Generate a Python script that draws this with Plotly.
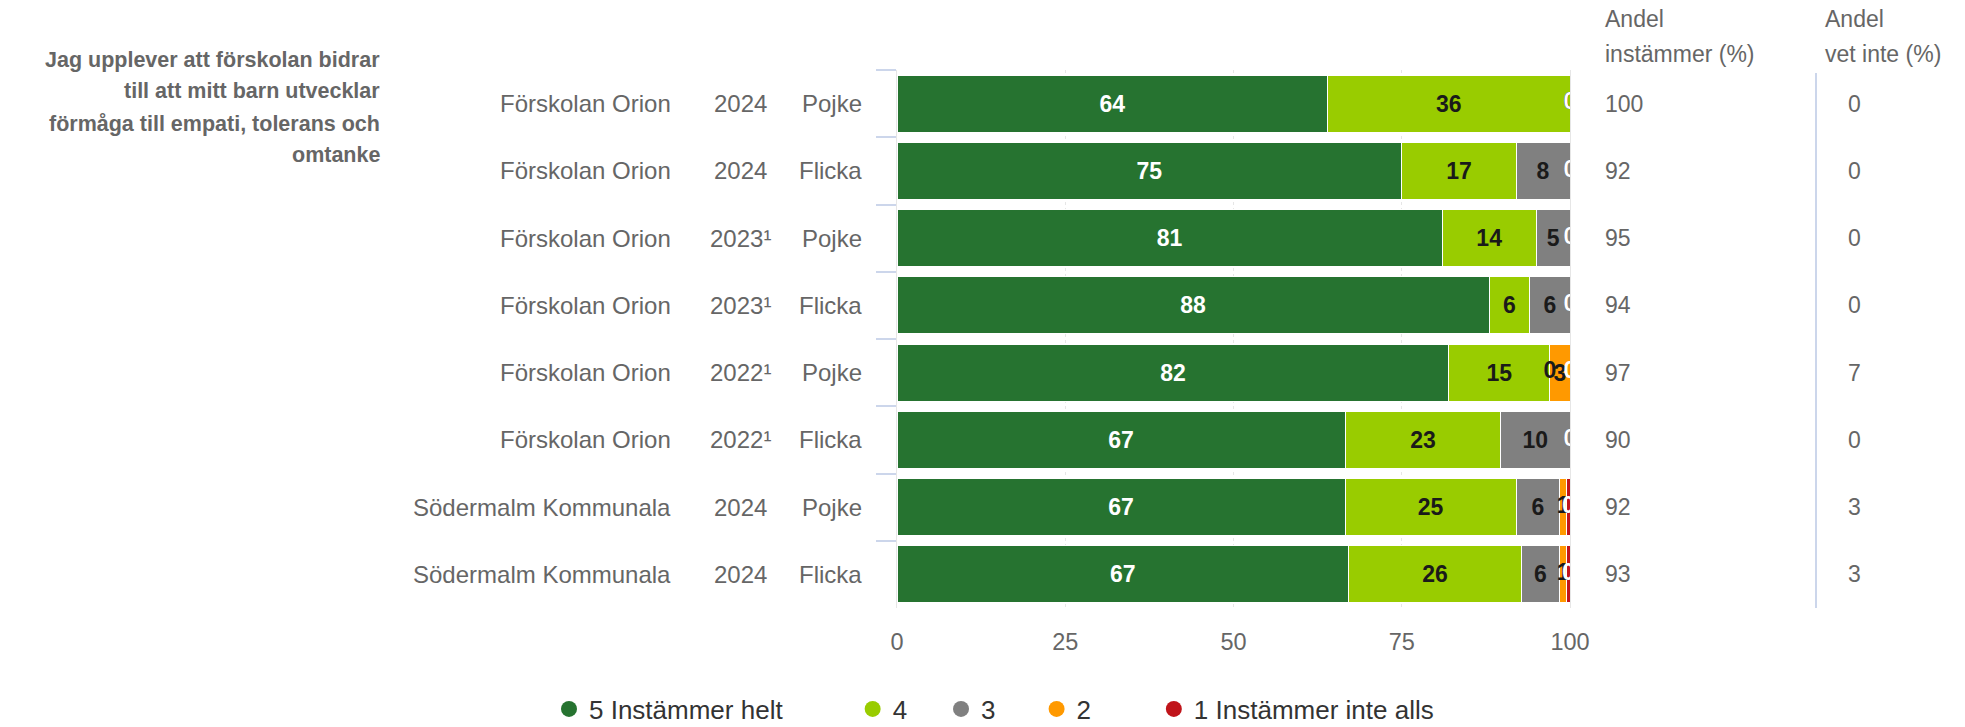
import plotly.graph_objects as go

# ---------------- data ----------------
schools = ["Förskolan Orion"] * 6 + ["Södermalm Kommunala"] * 2
years = ["2024", "2024", "2023¹", "2023¹", "2022¹", "2022¹", "2024", "2024"]
genders = ["Pojke", "Flicka"] * 4

v5 = [64, 75, 81, 88, 82, 66.6, 66.6, 67.1]
v4 = [36, 17, 14, 6, 15, 23.1, 25.4, 25.7]
v3 = [0, 8, 5, 6, 0, 10.3, 6.45, 5.6]
v2 = [0, 0, 0, 0, 3, 0, 1.1, 1.15]
v1 = [0, 0, 0, 0, 0, 0, 0.45, 0.45]

andel_instammer = [100, 92, 95, 94, 97, 90, 92, 93]
andel_vet_inte = [0, 0, 0, 0, 7, 0, 3, 3]

series_names = ["5 Instämmer helt", "4", "3", "2", "1 Instämmer inte alls"]
series_values = [v5, v4, v3, v2, v1]
series_colors = ["#267330", "#99cc00", "#808080", "#ff9900", "#c0141a"]
label_colors = ["#ffffff", "#1a1a1a", "#1a1a1a", "#1a1a1a", "#ffffff"]

question = ["Jag upplever att förskolan bidrar", "till att mitt barn utvecklar",
            "förmåga till empati, tolerans och", "omtanke"]
header1 = ["Andel", "instämmer (%)"]
header2 = ["Andel", "vet inte (%)"]

FONT = "Liberation Sans, Arial, sans-serif"
GRAY = "#666666"

# ---------------- layout geometry (pixels) ----------------
W, H = 1965, 727
L, R, T, B = 897, 395, 70, 119
PW, PH = W - L - R, H - T - B


def px_x(p):
    return (p - L) / PW


def px_y(p):
    return (H - B - p) / PH


row_ids = [f"{s}|{y}|{g}|{i}" for i, (s, y, g) in enumerate(zip(schools, years, genders))]

fig = go.Figure()

SMALL = 2
for name, vals, col, lcol in zip(series_names, series_values, series_colors, label_colors):
    fig.add_trace(go.Bar(
        y=row_ids, x=vals, orientation="h", name=name,
        marker=dict(color=col, line=dict(color="#ffffff", width=1)),
        text=[f"{round(v)}" if v >= SMALL else "" for v in vals],
        textposition="inside", insidetextanchor="middle", textangle=0,
        constraintext="none",
        textfont=dict(family=FONT, size=23, color=lcol, weight="bold"),
        showlegend=False, hoverinfo="x+name",
    ))

# small-value labels (zeros and tiny segments), placed at segment centres
cum = [0.0] * len(row_ids)
for name, vals, lcol in zip(series_names, series_values, label_colors):
    xs, ys, ts = [], [], []
    for i, v in enumerate(vals):
        if v < SMALL:
            xs.append(cum[i] + v / 2)
            ys.append(row_ids[i])
            ts.append(f"{round(v)}")
        cum[i] += v
    fig.add_trace(go.Scatter(
        x=xs, y=ys, text=ts, mode="text", cliponaxis=True,
        textfont=dict(family=FONT, size=23, color=lcol, weight="bold"),
        showlegend=False, hoverinfo="skip",
    ))

# legend entries (circles); trailing spaces set the gap between entries
legend_pad = [9, 4, 5, 8, 0]
for name, col, pad in zip(series_names, series_colors, legend_pad):
    fig.add_trace(go.Scatter(
        x=[None], y=[None], mode="markers",
        name=name + "\u00a0" * pad,
        marker=dict(symbol="circle", size=16, color=col),
        showlegend=True,
    ))

annotations = []
# row labels
for rid, s, y, g in zip(row_ids, schools, years, genders):
    annotations.append(dict(xref="paper", yref="y", x=px_x(673), y=rid, text=s,
                            xanchor="right", yanchor="middle", showarrow=False,
                            font=dict(family=FONT, size=24, color=GRAY)))
    annotations.append(dict(xref="paper", yref="y", x=px_x(740), y=rid, text=y,
                            xanchor="center", yanchor="middle", showarrow=False,
                            font=dict(family=FONT, size=24, color=GRAY)))
    annotations.append(dict(xref="paper", yref="y", x=px_x(864), y=rid, text=g,
                            xanchor="right", yanchor="middle", showarrow=False,
                            font=dict(family=FONT, size=24, color=GRAY)))

# right-hand value columns
for rid, a, d in zip(row_ids, andel_instammer, andel_vet_inte):
    annotations.append(dict(xref="paper", yref="y", x=px_x(1603), y=rid, text=str(a),
                            xanchor="left", yanchor="middle", showarrow=False,
                            font=dict(family=FONT, size=23, color=GRAY)))
    annotations.append(dict(xref="paper", yref="y", x=px_x(1854), y=rid, text=str(d),
                            xanchor="center", yanchor="middle", showarrow=False,
                            font=dict(family=FONT, size=23, color=GRAY)))

# column headers
for line, py in zip(header1, [19, 54]):
    annotations.append(dict(xref="paper", yref="paper", x=px_x(1603), y=px_y(py), text=line,
                            xanchor="left", yanchor="middle", showarrow=False,
                            font=dict(family=FONT, size=23, color=GRAY)))
for line, py in zip(header2, [19, 54]):
    annotations.append(dict(xref="paper", yref="paper", x=px_x(1823), y=px_y(py), text=line,
                            xanchor="left", yanchor="middle", showarrow=False,
                            font=dict(family=FONT, size=23, color=GRAY)))

# question title
for line, py in zip(question, [60, 91, 124, 155]):
    annotations.append(dict(xref="paper", yref="paper", x=px_x(382), y=px_y(py), text=line,
                            xanchor="right", yanchor="middle", showarrow=False,
                            font=dict(family=FONT, size=21.5, color=GRAY, weight="bold")))

fig.update_layout(
    width=W, height=H,
    margin=dict(l=L, r=R, t=T, b=B, pad=0, autoexpand=False),
    paper_bgcolor="#ffffff", plot_bgcolor="#ffffff",
    barmode="stack", bargap=0.15,
    font=dict(family=FONT, color=GRAY),
    xaxis=dict(range=[0, 100], tickvals=[0, 25, 50, 75, 100], showgrid=True,
               gridcolor="#e6e6e6", griddash="dot", gridwidth=1, zeroline=False,
               ticks="", ticklabelstandoff=17,
               tickfont=dict(family=FONT, size=23.5, color=GRAY), fixedrange=True),
    yaxis=dict(type="category", categoryorder="array", categoryarray=row_ids,
               autorange="reversed", showticklabels=False, tickson="boundaries",
               ticks="outside", ticklen=20, tickcolor="#ccd6eb", tickwidth=2,
               showline=True, linecolor="#e6e6e6", linewidth=1, mirror=True,
               showgrid=False, zeroline=False, fixedrange=True),
    legend=dict(orientation="h", x=px_x(549), xanchor="left", y=px_y(709),
                yanchor="middle", traceorder="normal",
                font=dict(family=FONT, size=26, color="#333333"),
                bgcolor="rgba(0,0,0,0)"),
    annotations=annotations,
    shapes=[dict(type="line", xref="paper", yref="paper", x0=px_x(1816), x1=px_x(1816),
                 y0=0, y1=px_y(73), line=dict(color="#ccd6eb", width=2))],
    showlegend=True,
)

fig.write_html("out.html")
